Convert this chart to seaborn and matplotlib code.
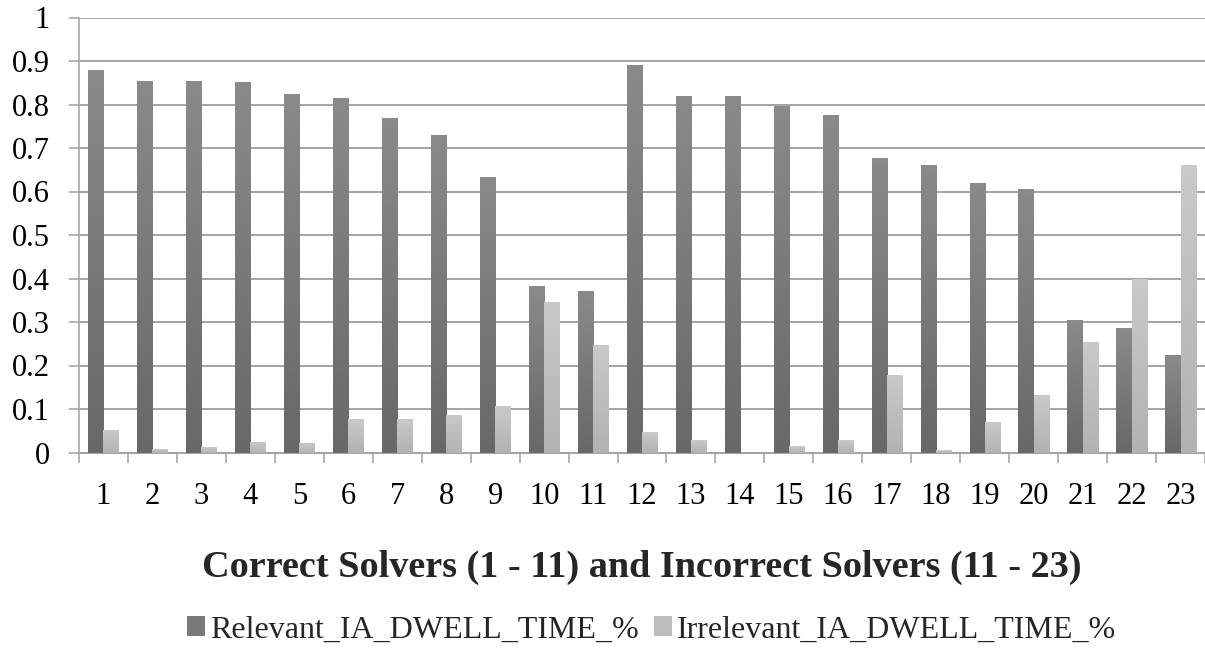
import numpy as np
import pandas as pd
import matplotlib
matplotlib.use("Agg")
import matplotlib.pyplot as plt
import matplotlib.colors as mcolors
from matplotlib.patches import Patch
from matplotlib.ticker import FixedLocator
import seaborn as sns

# Solver ids and dwell-time shares per interest area
solvers = [str(i) for i in range(1, 24)]
relevant = [0.879, 0.853, 0.853, 0.851, 0.823, 0.816, 0.770, 0.729, 0.633,
            0.383, 0.372, 0.890, 0.820, 0.820, 0.796, 0.777, 0.676, 0.662,
            0.619, 0.605, 0.305, 0.287, 0.224]
irrelevant = [0.051, 0.009, 0.012, 0.023, 0.021, 0.078, 0.078, 0.087, 0.108,
              0.345, 0.247, 0.048, 0.028, 0.000, 0.016, 0.028, 0.178, 0.005,
              0.069, 0.133, 0.253, 0.398, 0.660]
series_names = ["Relevant_IA_DWELL_TIME_%", "Irrelevant_IA_DWELL_TIME_%"]
y_ticks = [0, 0.1, 0.2, 0.3, 0.4, 0.5, 0.6, 0.7, 0.8, 0.9, 1]
title = "Correct Solvers (1 - 11) and Incorrect Solvers (11 - 23)"

df = pd.DataFrame({
    "solver": solvers * 2,
    "value": relevant + irrelevant,
    "series": [series_names[0]] * len(solvers) + [series_names[1]] * len(solvers),
})

sns.set_theme(style="white")
plt.rcParams["font.family"] = ["Liberation Serif", "DejaVu Serif"]

# (top colour, bottom colour) of each series' vertical gradient
grad = {series_names[0]: ("#8a8a8a", "#686868"),
        series_names[1]: ("#c9c9c9", "#b2b2b2")}

fig = plt.figure(figsize=(12.05, 6.52), dpi=100)
ax_left, ax_width = 79 / 1205, 1126 / 1205
ax = fig.add_axes([ax_left, 1 - 452.5 / 652, ax_width, 435 / 652])

sns.barplot(data=df, x="solver", y="value", hue="series", order=solvers,
            hue_order=series_names, width=0.62, palette=["#7a7a7a", "#bdbdbd"],
            saturation=1, linewidth=0, ax=ax, legend=False, zorder=3)

# Replace the flat fills with a top-to-bottom gradient
n = len(solvers)
for k, patch in enumerate(ax.patches[:2 * n]):
    name = series_names[k // n]
    top_c, bot_c = grad[name]
    x0, y0 = patch.get_x(), patch.get_y()
    w, h = patch.get_width(), patch.get_height()
    if h <= 0:
        continue
    cmap = mcolors.LinearSegmentedColormap.from_list("g", [bot_c, top_c])
    im = ax.imshow(np.linspace(0, 1, 64).reshape(-1, 1), cmap=cmap,
                   aspect="auto", origin="lower",
                   extent=[x0, x0 + w, y0, y0 + h], zorder=3)
    im.set_clip_path(patch)
    patch.set_facecolor("none")

ax.set_xlim(-0.5, n - 0.5)
ax.set_ylim(0, 1)
ax.set_yticks(y_ticks)
ax.set_yticklabels([f"{t:g}" for t in y_ticks])
ax.set_xlabel("")
ax.set_ylabel("")

ax.yaxis.grid(True, color="#a3a3a3", linewidth=1.4)
ax.set_axisbelow(True)
ax.grid(axis="x", visible=False)

for s in ["top", "right"]:
    ax.spines[s].set_visible(False)
ax.spines["left"].set_color("#a8a8a8")
ax.spines["left"].set_linewidth(1.2)
ax.spines["bottom"].set_color("#a3a3a3")
ax.spines["bottom"].set_linewidth(1.4)

ax.tick_params(axis="y", which="major", length=7, width=1.2, color="#a8a8a8",
               pad=14, labelsize=22, labelcolor="black", left=True)
ax.tick_params(axis="x", which="major", length=0, pad=21, labelsize=22,
               labelcolor="black")
ax.xaxis.set_minor_locator(FixedLocator(np.arange(-0.5, n, 1.0)))
ax.tick_params(axis="x", which="minor", length=7, width=1.2, color="#a8a8a8",
               bottom=True)

# Axis title and legend are centred under the plot area
plot_center = ax_left + ax_width / 2
fig.text(plot_center, 1 - 577 / 652, title, ha="center", va="baseline",
         fontsize=27.5, fontweight="bold")

handles = [Patch(facecolor="#7a7a7a", edgecolor="none"),
           Patch(facecolor="#bdbdbd", edgecolor="none")]
fig.legend(handles, series_names, loc="center",
           bbox_to_anchor=(plot_center + 0.008, 0.034),
           ncol=2, frameon=False, fontsize=23, handlelength=0.55,
           handleheight=0.55, handletextpad=0.15, columnspacing=0.5,
           borderaxespad=0)

fig.savefig("out.png", dpi=100)
